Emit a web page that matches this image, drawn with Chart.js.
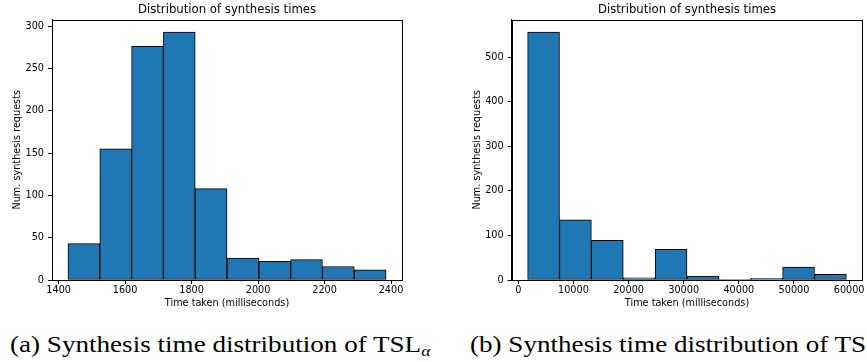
<!DOCTYPE html>
<html>
<head>
<meta charset="utf-8">
<script src="https://cdn.jsdelivr.net/npm/chart.js@4/dist/chart.umd.min.js"></script>
<style>
  html, body { margin: 0; padding: 0; background: #fff; width: 867px; height: 362px; overflow: hidden; }
  canvas { position: absolute; top: 0; }
  .cap {
    position: absolute; top: 332px; white-space: nowrap; transform: scaleX(1.178); transform-origin: 0 0;
    font-family: "Liberation Serif", "DejaVu Serif", serif; font-size: 23px; color: #000;
  }
  .cap sub { font-size: 15px; font-style: italic; vertical-align: -4px; }
</style>
</head>
<body>
<canvas id="alpha" width="430" height="312" style="left:0"></canvas>
<canvas id="beta" width="437" height="312" style="left:430px"></canvas>
<div class="cap" id="capA" style="left:10px">(a) Synthesis time distribution of TSL<sub>α</sub></div>
<div class="cap" id="capB" style="left:470px">(b) Synthesis time distribution of TS</div>
<script>
const TITLE = "Distribution of synthesis times";
const X_LABEL = "Time taken (milliseconds)";
const Y_LABEL = "Num. synthesis requests";

// TSL_alpha: bin centres (ms) and request counts
const alphaBins = [1475.9, 1571.6, 1667.3, 1763.0, 1858.7, 1954.4, 2050.1, 2145.8, 2241.5, 2337.2];
const alphaCounts = [43, 155, 276, 293, 108, 26, 22, 24, 16, 12];
const alphaXRange = [1380, 2433];
const alphaYMax = 307.7;
const alphaXTicks = [1400, 1600, 1800, 2000, 2200, 2400];
const alphaYTicks = [0, 50, 100, 150, 200, 250, 300];

// second system: bin centres (ms) and counts
const betaBins = [4590, 10370, 16150, 21930, 27710, 33490, 39270, 45050, 50830, 56610];
const betaCounts = [557, 135, 89, 5, 69, 9, 1, 4, 29, 13];
const betaXRange = [-1190, 62390];
const betaYMax = 585;
const betaXTicks = [0, 10000, 20000, 30000, 40000, 50000, 60000];
const betaYTicks = [0, 100, 200, 300, 400, 500];

const BAR_COLOR = "#1f77b4";
const EDGE_COLOR = "#000";
const TICK_FONT = { family: "DejaVu Sans", size: 9.7 };

/** matplotlib-style box: draw the top and right spines too. */
const frame = {
  id: "frame",
  afterDraw(chart) {
    const { ctx, chartArea: a } = chart;
    ctx.save();
    ctx.strokeStyle = "#000";
    ctx.lineWidth = 1;
    ctx.strokeRect(Math.round(a.left) + 0.5, Math.round(a.top) + 0.5,
      Math.round(a.right) - Math.round(a.left), Math.round(a.bottom) - Math.round(a.top));
    ctx.restore();
  },
};

function axis(min, max, tickValues, title, titlePad, tickPad, fit) {
  return {
    type: "linear",
    min, max,
    offset: false,
    grid: { display: true, offset: false, drawOnChartArea: false, drawTicks: true, tickLength: 4, color: "#000" },
    border: { display: true, color: "#000", width: 1 },
    ticks: {
      autoSkip: false, maxRotation: 0, padding: tickPad,
      color: "#000", font: TICK_FONT, callback: (v) => String(v),
    },
    afterBuildTicks: (sc) => { sc.ticks = tickValues.map((value) => ({ value })); },
    title: { display: true, text: title, color: "#000", font: TICK_FONT, padding: titlePad },
    afterFit: fit,
  };
}

function histogram(canvas, bins, counts, xRange, xTicks, yMax, yTicks, pad) {
  return new Chart(canvas, {
    type: "bar",
    data: {
      datasets: [{
        data: bins.map((x, i) => ({ x, y: counts[i] })),
        backgroundColor: BAR_COLOR,
        borderColor: EDGE_COLOR,
        borderWidth: 1,
        borderSkipped: false,
        barPercentage: 1,
        categoryPercentage: 1,
      }],
    },
    options: {
      responsive: false,
      animation: false,
      layout: { padding: { left: pad.left, right: pad.right, top: 0, bottom: 0 } },
      scales: {
        x: axis(xRange[0], xRange[1], xTicks, X_LABEL, { top: 0, bottom: 2.6 }, 0.5, (sc) => { sc.height = 32; }),
        y: axis(0, yMax, yTicks, Y_LABEL, { top: 12, bottom: 0 }, 4, (sc) => { sc.width = 52; }),
      },
      plugins: {
        legend: { display: false },
        tooltip: { enabled: false },
        title: {
          display: true, text: TITLE, fullSize: false, color: "#000",
          font: { family: "DejaVu Sans", size: 11.7, weight: "normal", lineHeight: 1.2 },
          padding: { top: 2.7, bottom: 2.8 },
        },
      },
    },
    plugins: [frame],
  });
}

histogram(document.getElementById("alpha"), alphaBins, alphaCounts, alphaXRange, alphaXTicks,
  alphaYMax, alphaYTicks, { left: 0, right: 28 });
histogram(document.getElementById("beta"), betaBins, betaCounts, betaXRange, betaXTicks,
  betaYMax, betaYTicks, { left: 29.7, right: 4.7 });
</script>
</body>
</html>
